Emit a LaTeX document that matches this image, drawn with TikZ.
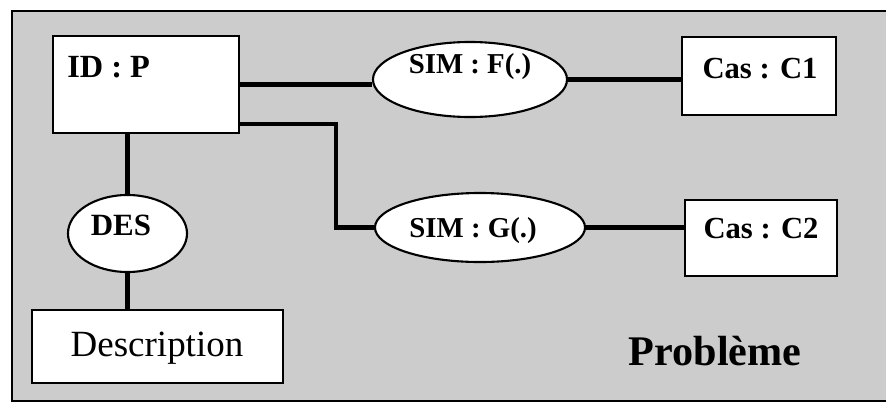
\documentclass[tikz,border=0pt]{standalone}
\usepackage{fontspec}
\setmainfont{Liberation Serif}
\usetikzlibrary{shapes.geometric}

\tikzset{
  boite/.style={draw, fill=white, line width=1.5pt, inner sep=0pt},
  bulle/.style={ellipse, draw, fill=white, line width=1.5pt, inner sep=0pt},
  lien/.style={line width=3.4pt},
  gras/.style={font=\bfseries\fontsize{#1}{#1}\selectfont, inner sep=0pt},
}

\begin{document}
\begin{tikzpicture}[x=0.025cm, y=-0.025cm]
% Cadre
\useasboundingbox (0,0) rectangle (886,409);
\fill[black!20] (12,11) rectangle (886,401);
\draw[line width=1.5pt] (886,11) -- (12,11) -- (12,401) -- (886,401);

% Boites
\node[boite, minimum width=4.65cm, minimum height=2.425cm] (id) at (146,84.5) {};
\node[boite, minimum width=3.85cm, minimum height=1.95cm] (c1) at (759,76) {};
\node[boite, minimum width=3.8cm, minimum height=1.9cm] (c2) at (761,238) {};
\node[boite, minimum width=6.275cm, minimum height=1.825cm] (descr) at (157.5,346.5) {};

% Ellipses
\node[bulle, minimum width=4.85cm, minimum height=1.875cm] (simf) at (470,79.5) {};
\node[bulle, minimum width=5.25cm, minimum height=1.725cm] (simg) at (480,227.5) {};
\node[bulle, minimum width=2.975cm, minimum height=1.925cm] (des) at (127.5,233.5) {};

% Liens
\draw[lien] (id.east) -- (id.east -| simf.west);
\draw[lien] (simf.east) -- (simf.east -| c1.west);
\draw[lien] ([yshift=0.25cm]id.south east) -- ++(96,0) |- (simg.west);
\draw[lien] (simg.east) -- (simg.east -| c2.west);
\draw[lien] (des.north |- id.south) -- (des.north);
\draw[lien] (des.south) -- (des.south |- descr.north);

% Textes
\node[gras=23, anchor=west] (tid) at (67,67) {ID : P};
\node[gras=20.5] (tsimf) at (470,67) {SIM : F(.)};
\node[gras=20.5] (tsimg) at (473,231) {SIM : G(.)};
\node[gras=21.8] (tc1) at (760,69) {Cas : C1};
\node[gras=21.8] (tc2) at (761,229) {Cas : C2};
\node[gras=22] (tdes) at (121,225) {DES};
\node[font=\fontsize{26.3}{26.3}\selectfont, inner sep=0pt, anchor=base] (tdescr) at (157,356) {Description};
\node[gras=30, anchor=base] (tprob) at (715,365) {Problème};
\end{tikzpicture}
\end{document}
